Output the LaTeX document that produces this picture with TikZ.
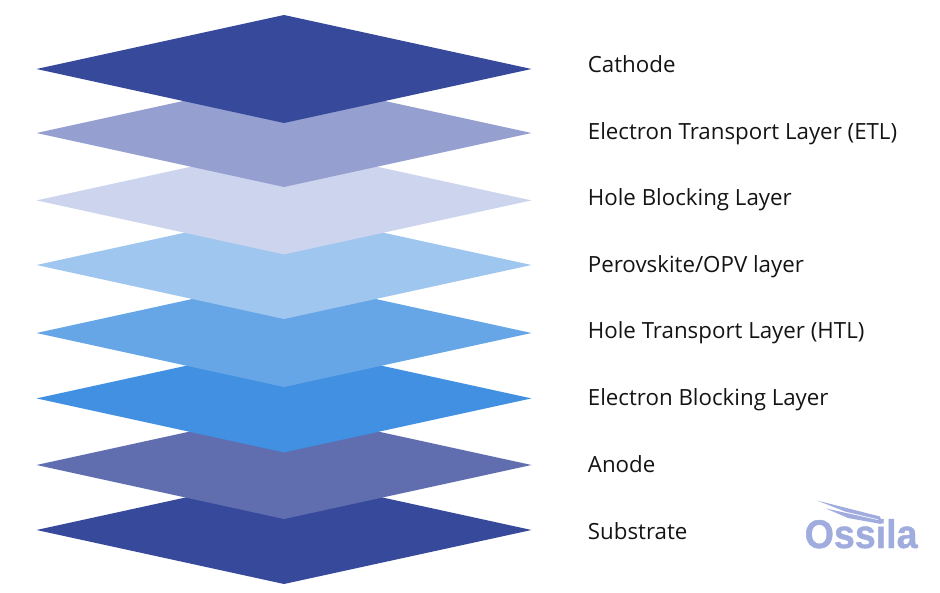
\documentclass[tikz,border=0pt]{standalone}
\usepackage{fontspec}
\setmainfont{Open Sans}
\newfontfamily\logofont{Liberation Sans}[FakeBold=1]
\definecolor{cCath}{HTML}{36499B}
\definecolor{cEtl}{HTML}{959FD0}
\definecolor{cHbl}{HTML}{CDD5EE}
\definecolor{cPer}{HTML}{9FC6EE}
\definecolor{cHtl}{HTML}{66A5E6}
\definecolor{cEbl}{HTML}{4290E2}
\definecolor{cAno}{HTML}{606EB0}
\definecolor{cSub}{HTML}{36499B}
\definecolor{cLogo}{HTML}{9FACDD}
\tikzset{
  layerlabel/.style={anchor=base west,inner sep=0pt,text=black!92,font=\fontsize{22.3}{26}\selectfont},
  wing/.style={fill=cLogo,draw=none}
}
\newcommand{\layer}[2]{\fill[#2] (36.5,#1) -- (284,#1-54) -- (531.5,#1) -- (284,#1+54) -- cycle;}
\begin{document}
\begin{tikzpicture}[x=1pt,y=-1pt]
\useasboundingbox (0,0) rectangle (940,593);
\layer{530}{cSub}
\layer{465}{cAno}
\layer{398.4}{cEbl}
\layer{333}{cHtl}
\layer{265}{cPer}
\layer{200.4}{cHbl}
\layer{133}{cEtl}
\layer{69}{cCath}
\node[layerlabel] (l1) at (587.7,72.5) {Cathode};
\node[layerlabel] (l2) at (587.7,139.5) {Electron Transport Layer (ETL)};
\node[layerlabel] (l3) at (587.7,206) {Hole Blocking Layer};
\node[layerlabel] (l4) at (587.7,272.5) {Perovskite/OPV layer};
\node[layerlabel] (l5) at (587.7,339) {Hole Transport Layer (HTL)};
\node[layerlabel] (l6) at (587.7,406) {Electron Blocking Layer};
\node[layerlabel] (l7) at (587.7,472.5) {Anode};
\node[layerlabel] (l8) at (587.7,539) {Substrate};
\node[anchor=base west,inner sep=0pt,text=cLogo,font=\logofont\bfseries\fontsize{40}{40}\selectfont,xscale=0.94] (logo) at (804.5,548) {Ossila};
\fill[wing] (817,500.5) -- (880,516.5) -- (881,520) -- (845,511.5) -- cycle;
\fill[wing] (826,508.5) -- (880,520.5) -- (881,524) -- (848,518) -- cycle;
\end{tikzpicture}
\end{document}
